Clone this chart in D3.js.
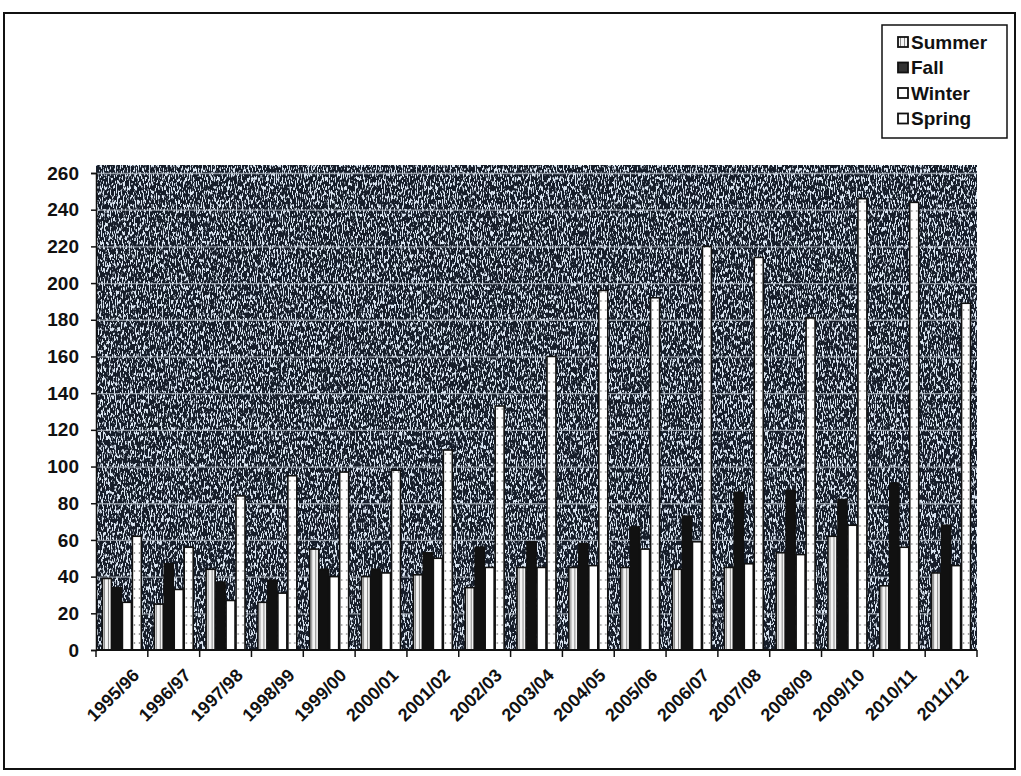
<!DOCTYPE html>
<html>
<head>
<meta charset="utf-8">
<script src="https://cdn.jsdelivr.net/npm/d3@7"></script>
<style>
  body { margin: 0; background: #fff; }
  text { font-family: "Liberation Sans", Arial, sans-serif; fill: #111; font-weight: bold; }
</style>
</head>
<body>
<div id="chart"></div>
<script>
var canvasWidth = 1021;
var canvasHeight = 776;

/*Data*/
var years = ["1995/96","1996/97","1997/98","1998/99","1999/00","2000/01","2001/02","2002/03","2003/04",
             "2004/05","2005/06","2006/07","2007/08","2008/09","2009/10","2010/11","2011/12"];
var seriesNames = ["Summer","Fall","Winter","Spring"];
var summer = [39,25,44,26,55,40,41,34,45,45,45,44,45,53,62,35,42];
var fall   = [34,47,37,38,44,44,53,56,59,58,67,73,86,87,82,91,68];
var winter = [26,33,27,31,40,42,50,45,45,46,55,59,47,52,68,56,46];
var spring = [62,56,84,95,97,98,109,133,160,196,192,220,214,181,246,244,189];
var yTicks = [0,20,40,60,80,100,120,140,160,180,200,220,240,260];

var seriesValues = {Summer: summer, Fall: fall, Winter: winter, Spring: spring};
var fills = {Summer: "url(#summerPat)", Fall: "#111", Winter: "#fff", Spring: "url(#springPat)"};

var svg = d3.select("#chart").append("svg")
    .attr("width", canvasWidth)
    .attr("height", canvasHeight);

var defs = svg.append("defs");

/*scan-like speckle over the plot area*/
var f = defs.append("filter").attr("id", "speckle")
    .attr("x", 0).attr("y", 0).attr("width", "100%").attr("height", "100%")
    .attr("color-interpolation-filters", "sRGB");
f.append("feTurbulence").attr("type", "fractalNoise")
    .attr("baseFrequency", "0.85 0.22").attr("numOctaves", 2).attr("seed", 7);
f.append("feColorMatrix").attr("type", "matrix")
    .attr("values", "0 0 0 0 0.86  0 0 0 0 0.9  0 0 0 0 0.95  10 0 0 0 -5.1");

var sp = defs.append("pattern").attr("id", "summerPat")
    .attr("patternUnits", "userSpaceOnUse").attr("width", 4).attr("height", 4);
sp.append("rect").attr("width", 4).attr("height", 4).attr("fill", "#f4f4f4");
sp.append("rect").attr("x", 2).attr("width", 1).attr("height", 4).attr("fill", "#888");

var pp = defs.append("pattern").attr("id", "springPat")
    .attr("patternUnits", "userSpaceOnUse").attr("width", 5).attr("height", 9);
pp.append("rect").attr("width", 5).attr("height", 9).attr("fill", "#fff");
pp.append("circle").attr("cx", 2.5).attr("cy", 4).attr("r", 0.8).attr("fill", "#666");

/*outer frame*/
svg.append("rect")
    .attr("x", 4).attr("y", 13).attr("width", 1011).attr("height", 756)
    .attr("fill", "none").attr("stroke", "#111").attr("stroke-width", 2);

var plotLeft = 96, plotRight = 977, plotTop = 173, plotBottom = 650;

var x = d3.scaleBand().domain(years).range([plotLeft, plotRight]).paddingInner(0.23).paddingOuter(0.115);
var xs = d3.scaleBand().domain(seriesNames).range([0, x.bandwidth()]);
var y = d3.scaleLinear().domain([0, 260]).range([plotBottom, plotTop]);

/*plot area background*/
svg.append("rect").attr("x", plotLeft).attr("y", plotTop - 8)
    .attr("width", plotRight - plotLeft).attr("height", plotBottom - plotTop + 8)
    .attr("fill", "#161d29");
svg.append("rect").attr("x", plotLeft).attr("y", plotTop - 8)
    .attr("width", plotRight - plotLeft).attr("height", plotBottom - plotTop + 8)
    .attr("filter", "url(#speckle)");

/*gridlines*/
svg.append("g")
    .attr("transform", "translate(" + plotLeft + ",0)")
    .call(d3.axisLeft(y).tickValues(yTicks.slice(1)).tickSize(-(plotRight - plotLeft)).tickFormat(""))
    .call(function (g) { g.select(".domain").remove(); })
    .selectAll("line").attr("stroke", "#b4bcc6").attr("stroke-width", 1.3).attr("stroke-opacity", 0.75);

/*bars*/
var groups = svg.append("g").selectAll("g")
    .data(years)
    .join("g")
    .attr("transform", function (d) { return "translate(" + x(d) + ",0)"; });

groups.selectAll("rect")
    .data(function (d, i) {
        return seriesNames.map(function (s) { return {series: s, value: seriesValues[s][i]}; });
    })
    .join("rect")
    .attr("x", function (d) { return xs(d.series) + 0.5; })
    .attr("y", function (d) { return y(d.value); })
    .attr("width", xs.bandwidth() - 1)
    .attr("height", function (d) { return y(0) - y(d.value); })
    .attr("fill", function (d) { return fills[d.series]; })
    .attr("stroke", "#111")
    .attr("stroke-width", 1.6);

/*Y axis*/
var yAxis = svg.append("g")
    .attr("transform", "translate(" + plotLeft + ",0)")
    .call(d3.axisLeft(y).tickValues(yTicks).tickSize(5).tickPadding(12));
yAxis.select(".domain").attr("stroke", "#111").attr("stroke-width", 1.5);
yAxis.selectAll("line").attr("stroke", "#111").attr("stroke-width", 1.5);
yAxis.selectAll("text").style("font-size", "19px").style("font-weight", "bold").attr("fill", "#111");

/*X axis line + boundary ticks*/
svg.append("line")
    .attr("x1", plotLeft).attr("x2", plotRight).attr("y1", plotBottom).attr("y2", plotBottom)
    .attr("stroke", "#111").attr("stroke-width", 2);
svg.append("g").selectAll("line")
    .data(d3.range(years.length + 1))
    .join("line")
    .attr("x1", function (i) { return plotLeft + i * x.step(); })
    .attr("x2", function (i) { return plotLeft + i * x.step(); })
    .attr("y1", plotBottom).attr("y2", plotBottom + 7)
    .attr("stroke", "#111").attr("stroke-width", 1.5);

svg.append("g").selectAll("text")
    .data(years)
    .join("text")
    .attr("transform", function (d) {
        return "translate(" + (x(d) + x.bandwidth() / 2 + 14) + "," + (plotBottom + 22) + ") rotate(-45)";
    })
    .attr("text-anchor", "end")
    .attr("dy", "0.35em")
    .style("font-size", "18px")
    .text(function (d) { return d; });

/*legend*/
var legend = svg.append("g").attr("transform", "translate(882,25)");
legend.append("rect").attr("width", 125).attr("height", 113)
    .attr("fill", "#fff").attr("stroke", "#111").attr("stroke-width", 1.5);
var items = legend.selectAll("g.item")
    .data(seriesNames)
    .join("g")
    .attr("class", "item")
    .attr("transform", function (d, i) { return "translate(16," + (17 + i * 25.5) + ")"; });
items.append("rect")
    .attr("x", 0).attr("y", -5).attr("width", 10).attr("height", 10)
    .attr("fill", function (d) { return d === "Fall" ? "#333" : (d === "Summer" ? "url(#summerPat)" : "#fff"); })
    .attr("stroke", "#111").attr("stroke-width", 1.8);
items.append("text")
    .attr("x", 13).attr("dy", "0.36em")
    .style("font-size", "19px")
    .text(function (d) { return d; });
</script>
</body>
</html>
